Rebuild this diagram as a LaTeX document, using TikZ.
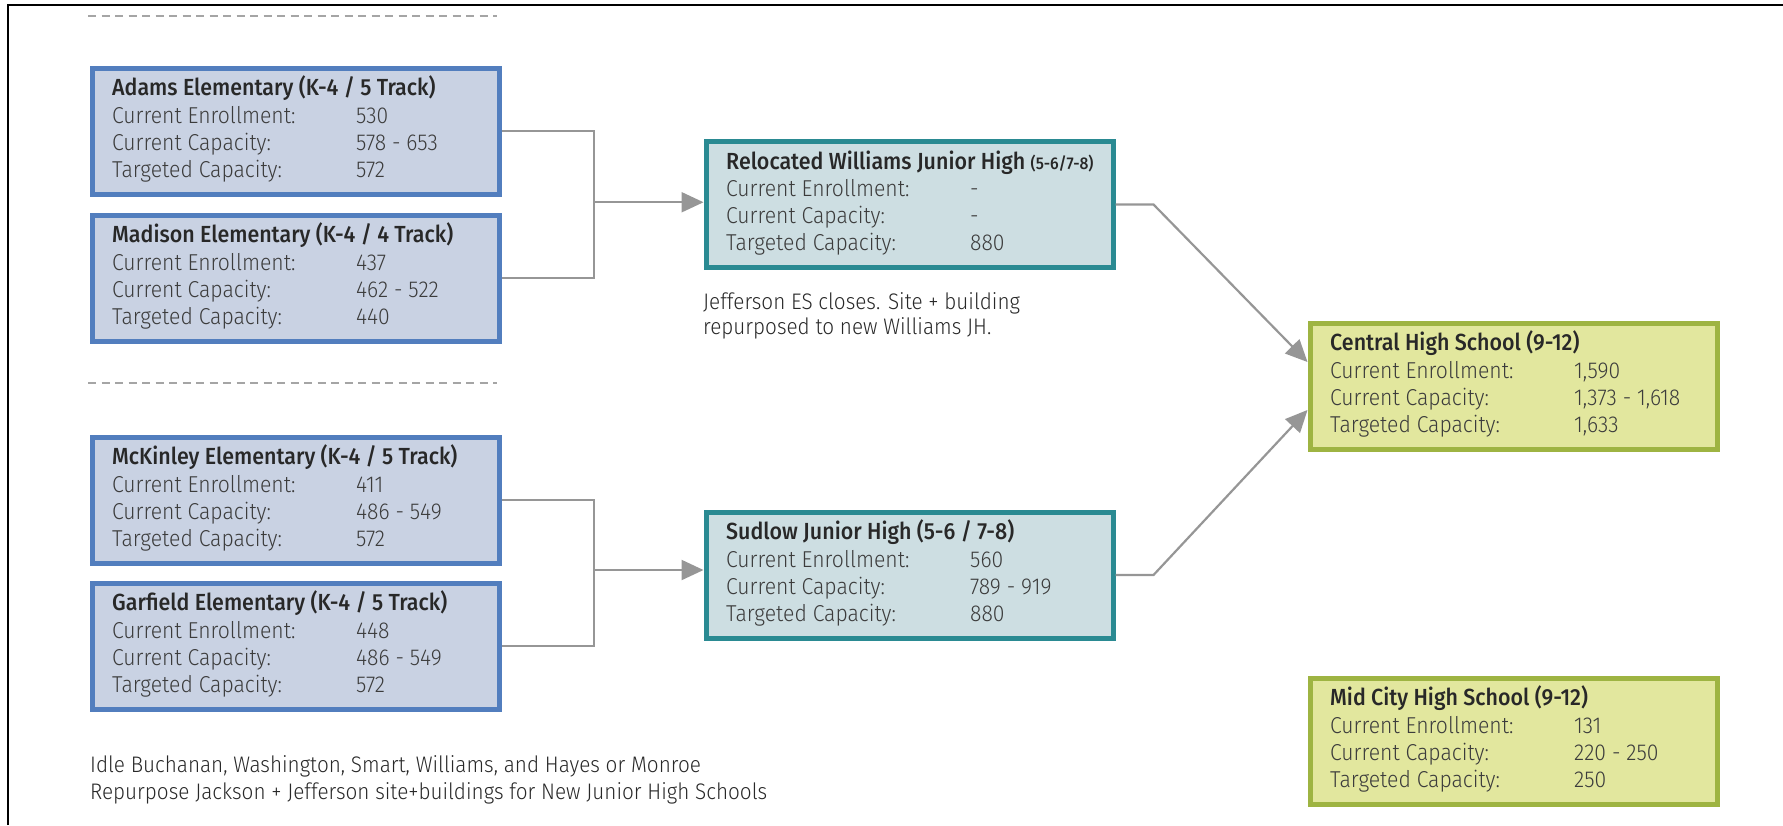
\documentclass[tikz,border=0pt]{standalone}
\usepackage{fontspec}
\setmainfont{Fira Sans Light}[BoldFont={Fira Sans Medium}, FakeStretch=0.92]
\usetikzlibrary{arrows.meta}
\definecolor{bluebd}{RGB}{82,126,190}
\definecolor{bluefill}{RGB}{201,210,227}
\definecolor{tealbd}{RGB}{42,138,146}
\definecolor{tealfill}{RGB}{205,222,226}
\definecolor{greenbd}{RGB}{158,180,66}
\definecolor{greenfill}{RGB}{226,231,158}
\definecolor{conngray}{RGB}{150,150,150}
\definecolor{dashgray}{RGB}{165,165,165}
\definecolor{titlecol}{RGB}{40,40,40}
\definecolor{rowcol}{RGB}{60,60,60}
\definecolor{notecol}{RGB}{40,40,40}
\tikzset{
  schbox/.style={draw, line width=5pt, minimum width=407pt, minimum height=126pt,
    inner sep=0pt, outer sep=2.5pt, anchor=north west},
  bluebox/.style={schbox, draw=bluebd, fill=bluefill},
  tealbox/.style={schbox, draw=tealbd, fill=tealfill},
  greenbox/.style={schbox, draw=greenbd, fill=greenfill},
  ttl/.style={anchor=base west, inner sep=0pt, font=\bfseries\fontsize{23.3}{26}\selectfont, text=titlecol},
  rowtxt/.style={anchor=base west, inner sep=0pt, font=\fontsize{23}{26}\selectfont, text=rowcol},
  notetxt/.style={anchor=base west, inner sep=0pt, font=\fontsize{22.5}{26}\selectfont, text=notecol},
  conn/.style={draw=conngray, line width=2.2pt},
  arr/.style={conn, -{Triangle[length=22pt,width=20pt,fill=conngray]}},
  sepline/.style={draw=dashgray, line width=2.5pt, dash pattern=on 8pt off 5.5pt},
}
\newcommand\schoolbox[8]{%
  \node[#4] (#1) at (#2+2.5,#3+2.5) {};
  \node[ttl] (#1-t) at (#2+25,#3+32.5) {#5};
  \node[rowtxt] (#1-l1) at (#2+25,#3+60) {Current Enrollment:};
  \node[rowtxt] (#1-l2) at (#2+25,#3+87) {Current Capacity:};
  \node[rowtxt] (#1-l3) at (#2+25,#3+114) {Targeted Capacity:};
  \node[rowtxt] (#1-v1) at (#2+269,#3+60) {#6};
  \node[rowtxt] (#1-v2) at (#2+269,#3+87) {#7};
  \node[rowtxt] (#1-v3) at (#2+269,#3+114) {#8};
}
\begin{document}
\begin{tikzpicture}[x=1pt,y=-1pt]
\useasboundingbox (0,0) rectangle (1783,825);
% frame
\draw[line width=2pt] (8,825) -- (8,5) -- (1783,5);
% separators
\draw[sepline] (88,16) -- (497,16);
\draw[sepline] (88,383) -- (497,383);
% boxes
\schoolbox{adams}{87}{63}{bluebox}{Adams Elementary (K-4 / 5 Track)}{530}{578 - 653}{572}
\schoolbox{madison}{87}{210}{bluebox}{Madison Elementary (K-4 / 4 Track)}{437}{462 - 522}{440}
\schoolbox{mckinley}{87}{432}{bluebox}{McKinley Elementary (K-4 / 5 Track)}{411}{486 - 549}{572}
\schoolbox{garfield}{87}{578}{bluebox}{Garfield Elementary (K-4 / 5 Track)}{448}{486 - 549}{572}
\schoolbox{williams}{701}{136.5}{tealbox}{Relocated Williams Junior High {\fontsize{17}{18}\selectfont (5-6/7-8)}}{-}{-}{880}
\schoolbox{sudlow}{701}{507}{tealbox}{Sudlow Junior High (5-6 / 7-8)}{560}{789 - 919}{880}
\schoolbox{central}{1305}{318}{greenbox}{Central High School (9-12)}{1,590}{1,373 - 1,618}{1,633}
\schoolbox{midcity}{1305}{673}{greenbox}{Mid City High School (9-12)}{131}{220 - 250}{250}
% notes
\node[notetxt] (jn1) at (703,309) {Jefferson ES closes. Site + building};
\node[notetxt] (jn2) at (703,334) {repurposed to new Williams JH.};
\node[notetxt] (bn1) at (90,772) {Idle Buchanan, Washington, Smart, Williams, and Hayes or Monroe};
\node[notetxt] (bn2) at (90,799) {Repurpose Jackson + Jefferson site+buildings for New Junior High Schools};
% bracket connectors
\coordinate (b1) at (594,0);
\draw[conn] (adams.east) -| (b1 |- madison.east) -- (madison.east);
\coordinate (b1m) at (594,202.25);
\draw[arr] (b1m) -- (williams.west |- b1m);
\draw[conn] (mckinley.east) -| (b1 |- garfield.east) -- (garfield.east);
\coordinate (b2m) at (594,570);
\draw[arr] (b2m) -- (sudlow.west |- b2m);
% to central
\coordinate (cin1) at ([yshift=24pt]central.west);
\coordinate (cin2) at ([yshift=-24pt]central.west);
\coordinate (wb) at ([xshift=38pt]williams.east);
\coordinate (sb) at ([xshift=38pt]sudlow.east);
\draw[arr] (williams.east) -- (wb) -- (cin1);
\draw[arr] (sudlow.east) -- (sb) -- (cin2);
\end{tikzpicture}
\end{document}
